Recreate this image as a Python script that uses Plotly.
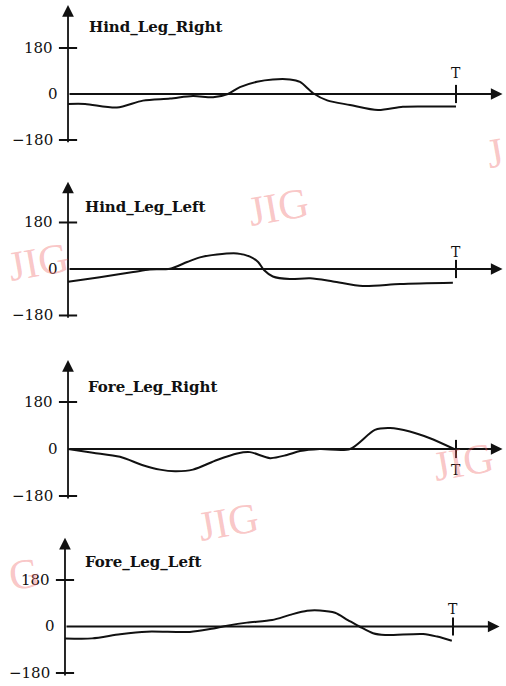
import plotly.graph_objects as go

# ---------------- data (phase in % of cycle T, joint angle in degrees) ----------------
panel_titles = ["Hind_Leg_Right", "Hind_Leg_Left", "Fore_Leg_Right", "Fore_Leg_Left"]
y_tick_vals = [180, 0, -180]
y_tick_text = ["180", "0", "\u2212180"]
period_label = "T"
period_value = 100

phase_hr = [0, 4.4, 12.6, 19.3, 26.3, 32.2, 37.4, 41.2, 44.3, 48.7, 52.8, 57.2, 59.8, 63.1, 66.8, 72.7, 79.9, 86.3, 93.3, 100]
angle_hr = [-39, -39, -53, -26, -18, -8, -13, 0, 27, 48, 57, 57, 47, 4, -25, -43, -63, -50, -49, -49]

phase_hl = [0, 8.2, 16.8, 21.1, 26.3, 30.7, 34.0, 38.4, 43.6, 46.9, 49.0, 50.5, 52.8, 57.2, 62.4, 68.3, 76.0, 85.6, 99.2]
angle_hl = [-49, -32, -12, -2, 1, 27, 45, 56, 60, 48, 27, -4, -29, -39, -36, -48, -66, -58, -53]

phase_fr = [0, 6.4, 13.4, 19.3, 23.7, 27.6, 32.2, 38.4, 43.6, 46.9, 52.1, 56.4, 59.8, 64.9, 72.7, 79.1, 83.0, 88.1, 93.3, 99.5]
angle_fr = [0, -14, -30, -62, -79, -85, -79, -42, -17, -12, -35, -23, -8, 0, 0, 73, 80, 67, 41, 0]

phase_fl = [0, 7.0, 14.2, 21.1, 32.2, 37.4, 41.8, 46.9, 53.4, 58.0, 62.4, 65.7, 69.6, 72.9, 76.0, 79.4, 82.5, 92.3, 95.9, 99.7]
angle_fl = [-46, -46, -30, -20, -21, -10, 3, 15, 25, 45, 61, 62, 53, 25, -1, -26, -33, -29, -39, -55]

series = [(phase_hr, angle_hr), (phase_hl, angle_hl), (phase_fr, angle_fr), (phase_fl, angle_fl)]

# ---------------- layout geometry ----------------
W, H = 506, 686
INK = "#111111"
SERIF = "DejaVu Serif, Liberation Serif, serif"

# per panel: (x-range, y-domain, y-range, y-arrow top, title pos, T label y)
panels = [
    dict(xr=[-17.53, 112.89], yd=[0.7522, 1.0], yr=[-297.4, 367.8], top=348, title=(4.9, 262), tl=82),
    dict(xr=[-17.53, 112.89], yd=[0.4971, 0.7493], yr=[-294.2, 375.5], top=338, title=(3.9, 241), tl=67),
    dict(xr=[-17.53, 112.89], yd=[0.2420, 0.4942], yr=[-271.9, 390.7], top=341, title=(4.6, 239), tl=-80),
    dict(xr=[-16.75, 113.66], yd=[0.0, 0.2391], yr=[-230.3, 404.5], top=343, title=(4.6, 251), tl=68),
]

fig = go.Figure()
annotations = []
layout = {}

for i, (p, (xs, ys)) in enumerate(zip(panels, series)):
    n = "" if i == 0 else str(i + 1)
    xa, ya = "x" + n, "y" + n
    layout["xaxis" + n] = dict(domain=[0, 1], range=p["xr"], visible=False, anchor=ya, fixedrange=True)
    layout["yaxis" + n] = dict(domain=p["yd"], range=p["yr"], visible=False, anchor=xa, fixedrange=True)

    # curve
    fig.add_trace(go.Scatter(x=xs, y=ys, mode="lines", xaxis=xa, yaxis=ya,
                             line=dict(color=INK, width=2, shape="spline", smoothing=0.8),
                             hoverinfo="skip"))
    # cross ticks at +-180
    fig.add_trace(go.Scatter(x=[0, 0], y=[180, -180], mode="markers", xaxis=xa, yaxis=ya,
                             marker=dict(symbol="line-ew", size=13, line=dict(color=INK, width=2)),
                             hoverinfo="skip"))
    # period tick
    fig.add_trace(go.Scatter(x=[period_value], y=[0], mode="markers", xaxis=xa, yaxis=ya,
                             marker=dict(symbol="line-ns", size=13, line=dict(color=INK, width=2)),
                             hoverinfo="skip"))

    # axes with arrows
    annotations.append(dict(x=0, y=p["top"], ax=0, ay=-195, xref=xa, yref=ya, axref=xa, ayref=ya,
                            text="", showarrow=True, arrowhead=2, arrowsize=1.3, arrowwidth=1.8,
                            arrowcolor=INK, standoff=0, startstandoff=0))
    annotations.append(dict(x=112, y=0, ax=0, ay=0, xref=xa, yref=ya, axref=xa, ayref=ya,
                            text="", showarrow=True, arrowhead=2, arrowsize=1.3, arrowwidth=1.8,
                            arrowcolor=INK, standoff=0, startstandoff=0))

    # tick labels
    for v, t in zip(y_tick_vals, y_tick_text):
        annotations.append(dict(x=0, y=v, xref=xa, yref=ya, text=t, showarrow=False,
                                xanchor="right", yanchor="middle", xshift=(-8 if v == 0 else -13),
                                font=dict(family=SERIF, size=15, color=INK)))
    # title
    annotations.append(dict(x=p["title"][0], y=p["title"][1], xref=xa, yref=ya,
                            text="<b>" + panel_titles[i] + "</b>",
                            showarrow=False, xanchor="left", yanchor="middle",
                            font=dict(family=SERIF, size=15, color=INK)))
    # period label
    annotations.append(dict(x=period_value, y=p["tl"], xref=xa, yref=ya, text=period_label,
                            showarrow=False, xanchor="center", yanchor="middle",
                            font=dict(family=SERIF, size=14, color=INK)))

# watermarks (scan artefacts); the ones at the page edge show only their visible letter
wm_color = "rgba(240,110,110,0.40)"
for (txt, px, py) in [("JIG", 278, 207), ("JIG", 38, 262), ("J", 495, 153), ("JIG", 463, 462),
                      ("JIG", 228, 522), ("G", 24, 574)]:
    annotations.append(dict(x=px / W, y=1 - py / H, xref="paper", yref="paper", text=txt,
                            showarrow=False, textangle=-10, xanchor="center", yanchor="middle",
                            font=dict(family="Liberation Serif, serif", size=42, color=wm_color)))

fig.update_layout(width=W, height=H, margin=dict(l=0, r=0, t=0, b=0),
                  paper_bgcolor="white", plot_bgcolor="white", showlegend=False,
                  annotations=annotations, **layout)

fig.write_html("out.html", config={"displayModeBar": False},
               post_script="document.body.style.margin='0';document.body.style.overflow='hidden';")
